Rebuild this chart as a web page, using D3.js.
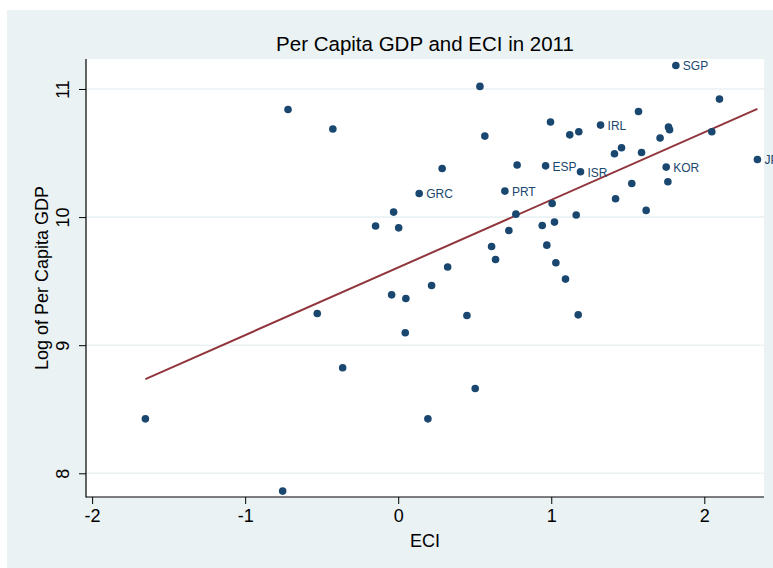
<!DOCTYPE html>
<html lang="en">
    <head>
        <title>Per Capita GDP and ECI in 2011</title>
        <meta charset="UTF-8">
        <script src="https://d3js.org/d3.v7.min.js"></script>
    </head>
    <style>
        body { margin: 0; background: #fff; }
        svg { display: block; font-family: "Liberation Sans", Arial, sans-serif; }
    </style>
    <body>
        <script>
            // data
            var eci = [-1.652, -0.755, -0.72, -0.427, -0.529, -0.363, -0.148, -0.03, 0.003, -0.043,
                       0.05, 0.046, 0.137, 0.194, 0.218, 0.287, 0.323, 0.449, 0.503, 0.534,
                       0.566, 0.61, 0.636, 0.697, 0.723, 0.769, 0.777, 0.941, 0.963, 0.971,
                       0.995, 1.006, 1.021, 1.03, 1.093, 1.121, 1.163, 1.176, 1.18, 1.191,
                       1.322, 1.413, 1.42, 1.459, 1.526, 1.57, 1.59, 1.62, 1.711, 1.751,
                       1.762, 1.766, 1.773, 1.814, 2.049, 2.099, 2.347];
            var lgdp = [8.425, 7.861, 10.84, 10.687, 9.247, 8.824, 9.93, 10.039, 9.916, 9.393,
                        9.365, 9.097, 10.184, 8.425, 9.466, 10.379, 9.61, 9.232, 8.662, 11.02,
                        10.632, 9.77, 9.669, 10.203, 9.895, 10.023, 10.406, 9.934, 10.4, 9.781,
                        10.742, 10.106, 9.961, 9.643, 9.516, 10.642, 10.016, 9.237, 10.666, 10.354,
                        10.718, 10.494, 10.143, 10.541, 10.262, 10.824, 10.504, 10.052, 10.617, 10.39,
                        10.276, 10.703, 10.682, 11.183, 10.666, 10.921, 10.45];
            var codes = ["", "", "", "", "", "", "", "", "", "",
                         "", "", "GRC", "", "", "", "", "", "", "",
                         "", "", "", "PRT", "", "", "", "", "ESP", "",
                         "", "", "", "", "", "", "", "", "", "ISR",
                         "IRL", "", "", "", "", "", "", "", "", "KOR",
                         "", "", "", "SGP", "", "", "JPN"];
            // fitted line end points
            var fitX = [-1.652, 2.347];
            var fitY = [8.735, 10.845];
            var xTicks = [-2, -1, 0, 1, 2];
            var yTicks = [8, 9, 10, 11];

            var width = 773, height = 568;
            var pLeft = 86, pRight = 764, pTop = 59, pBottom = 497;

            var svg = d3.select("body")
                    .append("svg")
                    .attr("width", width)
                    .attr("height", height);

            // outer background
            svg.append("rect")
                    .attr("x", 7).attr("y", 10)
                    .attr("width", width - 7).attr("height", height - 10)
                    .attr("fill", "#eaf2f3");

            // plot region
            svg.append("rect")
                    .attr("x", pLeft).attr("y", pTop)
                    .attr("width", pRight - pLeft).attr("height", pBottom - pTop)
                    .attr("fill", "#fff");

            var x = d3.scaleLinear().domain([-2.04, 2.39]).range([pLeft, pRight]);
            var y = d3.scaleLinear().domain([7.815, 11.234]).range([pBottom, pTop]);

            // grid lines
            svg.append("g").selectAll("line")
                    .data(yTicks)
                    .enter()
                    .append("line")
                    .attr("x1", pLeft).attr("x2", pRight)
                    .attr("y1", function(d){ return y(d); })
                    .attr("y2", function(d){ return y(d); })
                    .attr("stroke", "#eaf2f3")
                    .attr("stroke-width", 1.6);

            // axes
            var fmt = function(d){ return String(d); };
            var xAxis = svg.append("g")
                    .attr("transform", "translate(0," + pBottom + ")")
                    .call(d3.axisBottom(x).tickValues(xTicks).tickSize(7).tickPadding(5).tickFormat(fmt));
            var yAxis = svg.append("g")
                    .attr("transform", "translate(" + pLeft + ",0)")
                    .call(d3.axisLeft(y).tickValues(yTicks).tickSize(7).tickFormat(fmt));

            [xAxis, yAxis].forEach(function(a){
                a.select(".domain").remove();
                a.selectAll("line").attr("stroke", "#000").attr("stroke-width", 1);
                a.selectAll("text")
                        .attr("fill", "#000")
                        .style("font-size", "18px")
                        .style("font-family", "Liberation Sans, Arial, sans-serif");
            });
            // y tick labels are written vertically
            yAxis.selectAll("text")
                    .attr("x", null).attr("dy", null)
                    .attr("text-anchor", "middle")
                    .attr("transform", "translate(-17,0) rotate(-90)");

            svg.append("line")
                    .attr("x1", pLeft).attr("x2", pLeft)
                    .attr("y1", pTop).attr("y2", pBottom + 0.5)
                    .attr("stroke", "#000").attr("stroke-width", 1.2);
            svg.append("line")
                    .attr("x1", pLeft).attr("x2", pRight)
                    .attr("y1", pBottom).attr("y2", pBottom)
                    .attr("stroke", "#000").attr("stroke-width", 1.2);

            // fitted line
            svg.append("line")
                    .attr("x1", x(fitX[0])).attr("y1", y(fitY[0]))
                    .attr("x2", x(fitX[1])).attr("y2", y(fitY[1]))
                    .attr("stroke", "#90353b")
                    .attr("stroke-width", 2);

            // points
            var pts = svg.append("g").selectAll("g")
                    .data(eci.map(function(d, i){ return {x: d, y: lgdp[i], code: codes[i]}; }))
                    .enter()
                    .append("g")
                    .attr("transform", function(d){ return "translate(" + x(d.x) + "," + y(d.y) + ")"; });

            pts.append("circle")
                    .attr("r", 3.8)
                    .attr("fill", "#1a476f");

            pts.filter(function(d){ return d.code; })
                    .append("text")
                    .attr("x", 7)
                    .attr("dy", "0.4em")
                    .attr("fill", "#1a476f")
                    .style("font-size", "12px")
                    .text(function(d){ return d.code; });

            // titles
            svg.append("text")
                    .attr("x", (pLeft + pRight) / 2)
                    .attr("y", 51)
                    .attr("text-anchor", "middle")
                    .style("font-size", "20.5px")
                    .text("Per Capita GDP and ECI in 2011");

            svg.append("text")
                    .attr("x", (pLeft + pRight) / 2)
                    .attr("y", 547)
                    .attr("text-anchor", "middle")
                    .style("font-size", "18px")
                    .text("ECI");

            svg.append("text")
                    .attr("transform", "translate(48," + (pTop + pBottom) / 2 + ") rotate(-90)")
                    .attr("text-anchor", "middle")
                    .style("font-size", "18px")
                    .text("Log of Per Capita GDP");
        </script>
    </body>
</html>
